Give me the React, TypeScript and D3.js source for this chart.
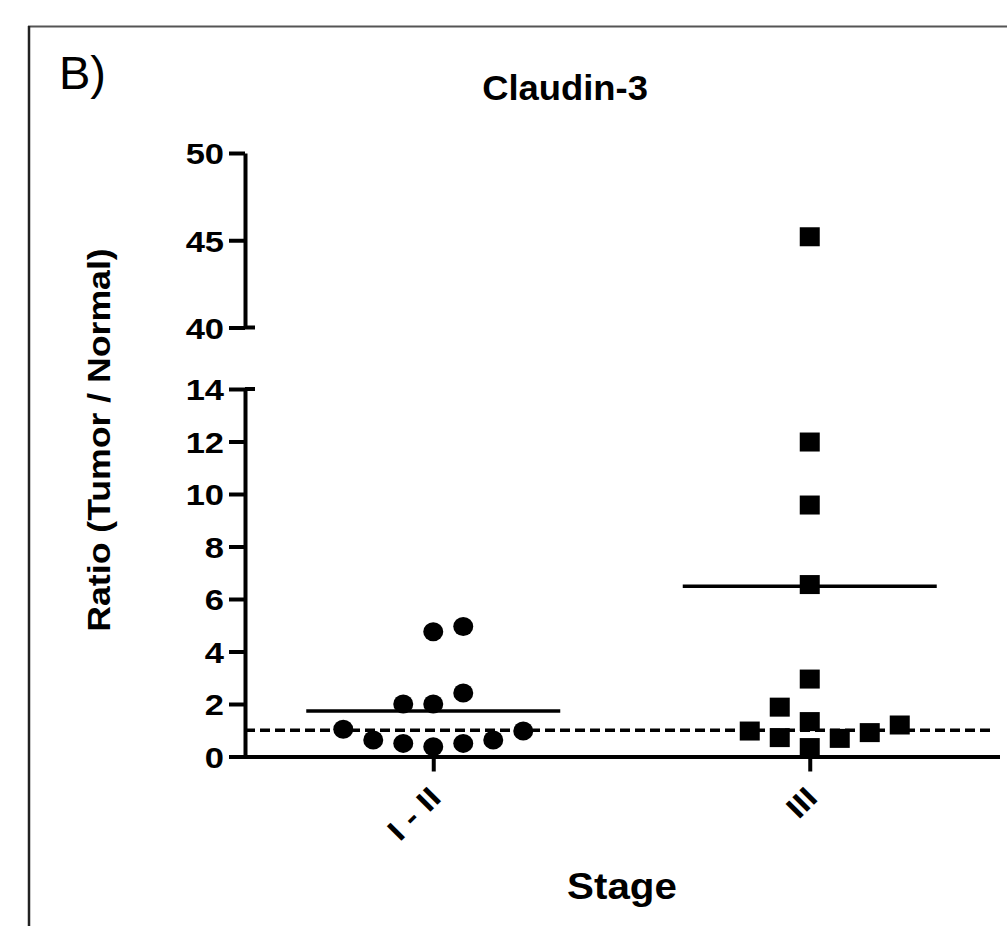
import React, { useRef, useEffect } from 'react';
import * as d3 from 'd3';

// values (ratio tumor / normal)
const stages = ["I - II", "III"];
const stageOneTwoValues = [4.75, 4.95, 2.42, 2.0, 2.0, 1.04, 0.97, 0.63, 0.5, 0.37, 0.5, 0.63];
const stageOneTwoSlots = [0, 1, 1, -1, 0, -3, 3, -2, -1, 0, 1, 2];
const stageThreeValues = [45.2, 11.98, 9.58, 6.55, 2.95, 1.88, 1.33, 0.97, 0.72, 0.34, 0.69, 0.91, 1.2];
const stageThreeSlots = [0, 0, 0, 0, 0, -1, 0, -2, -1, 0, 1, 2, 3];
const lowerTicks = [0, 2, 4, 6, 8, 10, 12, 14];
const upperTicks = [40, 45, 50];
const referenceRatio = 1;

const W = 1007;
const H = 926;
const FONT = "'Liberation Sans', Arial, sans-serif";

const App = () => {
  const svgRef = useRef<SVGSVGElement>(null);

  useEffect(() => {
    const svg = d3.select(svgRef.current);
    svg.selectAll("*").remove();

    const axisLeftX = 245;
    const yLow = d3.scaleLinear().domain([0, 14]).range([756.5, 389]);
    const yHigh = d3.scaleLinear().domain([40, 50]).range([327.5, 153]);
    const y = (v: number) => (v >= 40 ? yHigh(v) : yLow(v));
    const x = d3.scalePoint<string>().domain(stages).range([axisLeftX, 998]).padding(0.5);
    const slotW = 30;
    const meanHalf = 127;

    // frame
    svg.append("line").attr("x1", 28).attr("x2", W).attr("y1", 26.5).attr("y2", 26.5)
      .attr("stroke", "#555").attr("stroke-width", 2);
    svg.append("line").attr("x1", 29).attr("x2", 29).attr("y1", 26).attr("y2", H)
      .attr("stroke", "#222").attr("stroke-width", 2.5);

    svg.append("text").attr("x", 59).attr("y", 89)
      .attr("font-family", FONT).attr("font-size", 47)
      .text("B)");

    svg.append("text").attr("transform", "translate(565,100) scale(1.04,1)").attr("text-anchor", "middle")
      .attr("font-family", FONT).attr("font-weight", "bold").attr("font-size", 35)
      .text("Claudin-3");

    const styleAxis = (g: any) => {
      g.attr("font-family", FONT).attr("font-weight", "bold").attr("font-size", 30);
      g.select(".domain").attr("stroke-width", 4).attr("stroke", "#000");
      g.selectAll(".tick line").attr("stroke-width", 4).attr("stroke", "#000");
      g.selectAll(".tick text").attr("fill", "#000");
    };
    const stretchY = (g: any) => {
      g.selectAll(".tick text").attr("x", 0).attr("dy", "0.36em")
        .attr("transform", "translate(-21,0) scale(1.15,1)");
    };

    // y axis, lower segment
    svg.append("g").attr("transform", `translate(${axisLeftX},0)`)
      .call(d3.axisLeft(yLow).tickValues(lowerTicks).tickSize(16).tickSizeOuter(0).tickPadding(4))
      .call(styleAxis).call(stretchY);
    // y axis, upper segment
    svg.append("g").attr("transform", `translate(${axisLeftX},0)`)
      .call(d3.axisLeft(yHigh).tickValues(upperTicks).tickSize(16).tickSizeOuter(0).tickPadding(4))
      .call(styleAxis).call(stretchY);
    // break caps
    [yLow(14), yHigh(40)].forEach(py => {
      svg.append("line").attr("x1", axisLeftX).attr("x2", axisLeftX + 10)
        .attr("y1", py).attr("y2", py).attr("stroke", "#000").attr("stroke-width", 4);
    });

    // x axis
    const xg = svg.append("g").attr("transform", `translate(0,${yLow(0)})`)
      .call(d3.axisBottom(x).tickSize(15).tickSizeOuter(0))
      .call(styleAxis);
    xg.select(".domain").attr("d", `M${axisLeftX},0.5H1000`);
    xg.selectAll(".tick text")
      .attr("x", 0).attr("y", 0).attr("dy", 0)
      .attr("transform", "translate(9,43) rotate(-45) scale(1.18,1)")
      .style("text-anchor", "end");

    // reference line at ratio = 1
    svg.append("line").attr("x1", axisLeftX).attr("x2", 991)
      .attr("y1", y(referenceRatio)).attr("y2", y(referenceRatio))
      .attr("stroke", "#000").attr("stroke-width", 3.5).attr("stroke-dasharray", "10,5");

    const groups = [
      { stage: stages[0], values: stageOneTwoValues, slots: stageOneTwoSlots, shape: "circle" },
      { stage: stages[1], values: stageThreeValues, slots: stageThreeSlots, shape: "square" },
    ];

    // mean lines
    groups.forEach(gr => {
      const m = d3.mean(gr.values) as number;
      const cx = x(gr.stage) as number;
      svg.append("line").attr("x1", cx - meanHalf).attr("x2", cx + meanHalf)
        .attr("y1", y(m)).attr("y2", y(m)).attr("stroke", "#000").attr("stroke-width", 3.5);
    });

    // points
    groups.forEach(gr => {
      const cx = x(gr.stage) as number;
      const pts = gr.values.map((v, i) => ({ v, s: gr.slots[i] }));
      if (gr.shape === "circle") {
        svg.append("g").selectAll("ellipse").data(pts).join("ellipse")
          .attr("cx", d => cx + d.s * slotW).attr("cy", d => y(d.v))
          .attr("rx", 10).attr("ry", 9.5).attr("fill", "#000");
      } else {
        svg.append("g").selectAll("rect").data(pts).join("rect")
          .attr("x", d => cx + d.s * slotW - 10).attr("y", d => y(d.v) - 9.5)
          .attr("width", 20).attr("height", 19).attr("fill", "#000");
      }
    });

    // axis titles
    svg.append("text").attr("transform", "translate(110,440) rotate(-90) scale(1.15,1)")
      .attr("text-anchor", "middle").attr("font-family", FONT).attr("font-weight", "bold")
      .attr("font-size", 31).text("Ratio (Tumor / Normal)");

    svg.append("text").attr("transform", "translate(622,899) scale(1.09,1)").attr("text-anchor", "middle")
      .attr("font-family", FONT).attr("font-weight", "bold").attr("font-size", 37)
      .text("Stage");
  }, []);

  return (
    <svg ref={svgRef} width={W} height={H}
      style={{ position: 'absolute', left: 0, top: 0, background: '#fff' }} />
  );
};

export default App;
